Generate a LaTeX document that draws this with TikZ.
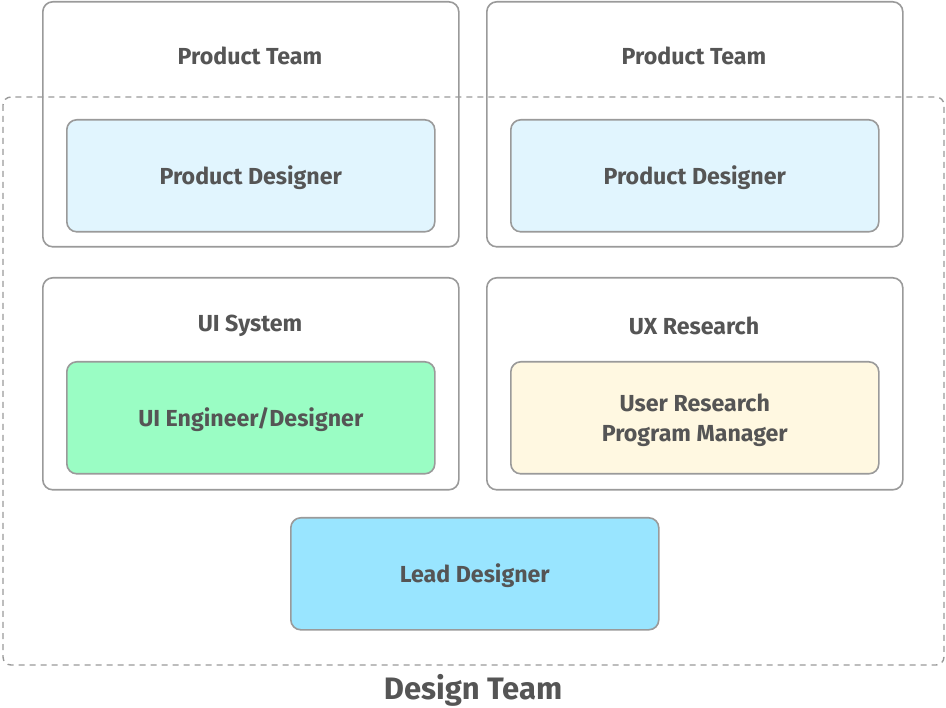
\documentclass[tikz,border=0pt]{standalone}
\usepackage{fontspec}
\setmainfont{Fira Sans}
\definecolor{bord}{HTML}{9A9A9A}
\definecolor{txt}{HTML}{555555}
\definecolor{pdfill}{HTML}{E1F5FE}
\definecolor{uifill}{HTML}{9AFDC4}
\definecolor{uxfill}{HTML}{FFF8E1}
\definecolor{leadfill}{HTML}{99E5FF}
\begin{document}
\begin{tikzpicture}[x=1pt,y=-1pt,
  outerbox/.style={draw=bord,line width=1.6pt,rounded corners=10pt,fill=white},
  innerbox/.style={draw=bord,line width=1.6pt,rounded corners=10pt},
  lbl/.style={text=txt,font=\bfseries\fontsize{23.2}{30}\selectfont,align=center},
  biglbl/.style={text=txt,font=\bfseries\fontsize{31}{34}\selectfont}]
\useasboundingbox (0,0) rectangle (946,708);
% outer group boxes
\node[outerbox,minimum width=416pt,minimum height=245pt,anchor=north west] (pt1) at (42,1) {};
\node[outerbox,minimum width=416pt,minimum height=245pt,anchor=north west] (pt2) at (486,1) {};
\node[outerbox,minimum width=416pt,minimum height=212pt,anchor=north west] (uis) at (42,277) {};
\node[outerbox,minimum width=416pt,minimum height=212pt,anchor=north west] (uxr) at (486,277) {};
% dashed design team
\draw[bord,line width=1.4pt,dash pattern=on 6pt off 5pt,rounded corners=8pt] (3,97) rectangle (944,665);
% titles
\node[lbl] (t1) at (250,56) {Product Team};
\node[lbl] (t2) at (694,56) {Product Team};
\node[lbl] (t3) at (250,326) {UI System};
\node[lbl] (t4) at (694,326) {UX Research};
% inner boxes
\node[innerbox,fill=pdfill,minimum width=368pt,minimum height=112pt,anchor=north west] (pd1) at (66,119) {};
\node[lbl] at ([yshift=-2pt]pd1.center) {Product Designer};
\node[innerbox,fill=pdfill,minimum width=368pt,minimum height=112pt,anchor=north west] (pd2) at (510,119) {};
\node[lbl] at ([yshift=-2pt]pd2.center) {Product Designer};
\node[innerbox,fill=uifill,minimum width=368pt,minimum height=112pt,anchor=north west] (uie) at (66,361) {};
\node[lbl] at ([yshift=-2pt]uie.center) {UI Engineer/Designer};
\node[innerbox,fill=uxfill,minimum width=368pt,minimum height=112pt,anchor=north west] (urp) at (510,361) {};
\node[lbl] at ([yshift=-2pt]urp.center) {User Research\\Program Manager};
\node[innerbox,fill=leadfill,minimum width=368pt,minimum height=112pt,anchor=north west] (lead) at (290,517) {};
\node[lbl] at ([yshift=-2pt]lead.center) {Lead Designer};
\node[biglbl] (dt) at (473,690) {Design Team};
\end{tikzpicture}
\end{document}
